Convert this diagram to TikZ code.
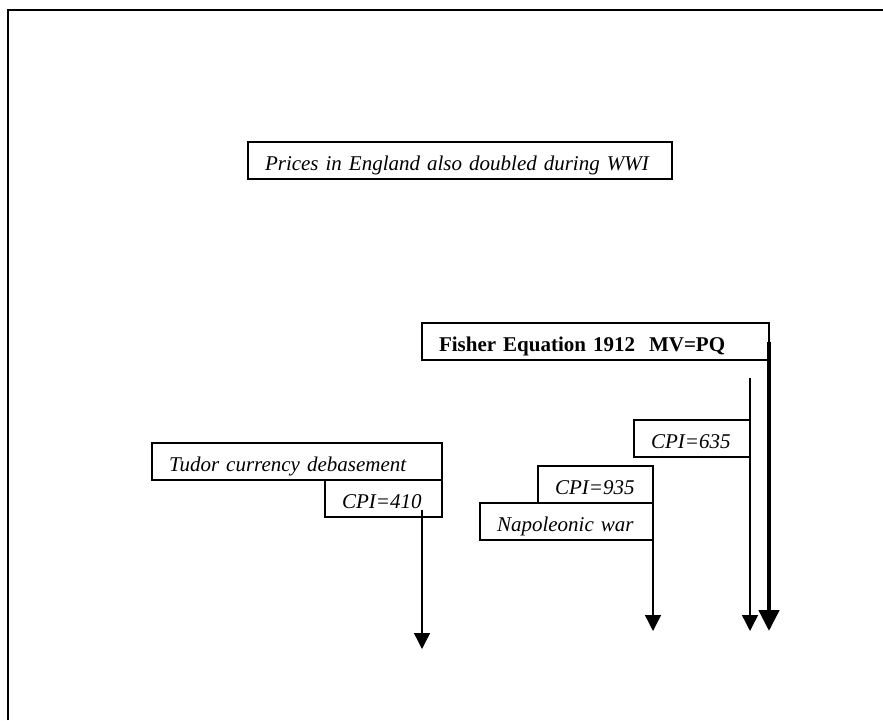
\documentclass[tikz,border=0pt]{standalone}
\usepackage{fontspec}
\setmainfont{Liberation Serif}
\usetikzlibrary{arrows.meta, positioning}

\begin{document}
\begin{tikzpicture}[x=1pt, y=-1pt, >={Triangle[width=16pt,length=16pt]}, line width=1.4pt,
    tbox/.style={draw, rectangle, anchor=north west, outer sep=0pt, inner xsep=17pt, inner ysep=0pt,
      text height=28pt, text depth=9pt, align=left, font=\fontsize{21pt}{25pt}\selectfont\itshape}]
      \useasboundingbox (0,0) rectangle (883,720);
      \draw[line width=2.5pt] (8,720) -- (8,10) -- (883,10);

      \node[tbox, text width=390pt] (wwi) at (248,142) {Prices in England also doubled during WWI};
      \node[tbox, text width=313pt, font=\fontsize{21pt}{25pt}\selectfont\bfseries] (fisher) at (422,323) {Fisher Equation 1912~~MV=PQ};
      \node[tbox, text width=256pt] (tudor) at (152,443) {Tudor currency debasement};
      \node[tbox, text width=83pt, anchor=north east] (cpi410) at (tudor.south east) {CPI=410};
      \node[tbox, text width=82pt, anchor=north east] (cpi635) at (750,420) {CPI=635};
      \node[tbox, text width=81pt] (cpi935) at (538,466) {CPI=935};
      \node[tbox, text width=139pt, anchor=north east] (napoleon) at (cpi935.south east) {Napoleonic war};

      \coordinate (s410) at (422,510);
      \coordinate (t410) at (422,649);
      \coordinate (s635) at (750,378);
      \coordinate (t635) at (750,631);
      \coordinate (t935) at (653,631);
      \coordinate (tfisher) at (769,631);

      \draw[->] (s410) -- (t410);
      \draw[->] (napoleon.north east) -- (t935);
      \draw[->] (s635) -- (t635);
      \draw[line width=4.5pt, -{Triangle[width=20pt,length=21pt]}] (fisher.east) -- (tfisher);
    \end{tikzpicture}
\end{document}
